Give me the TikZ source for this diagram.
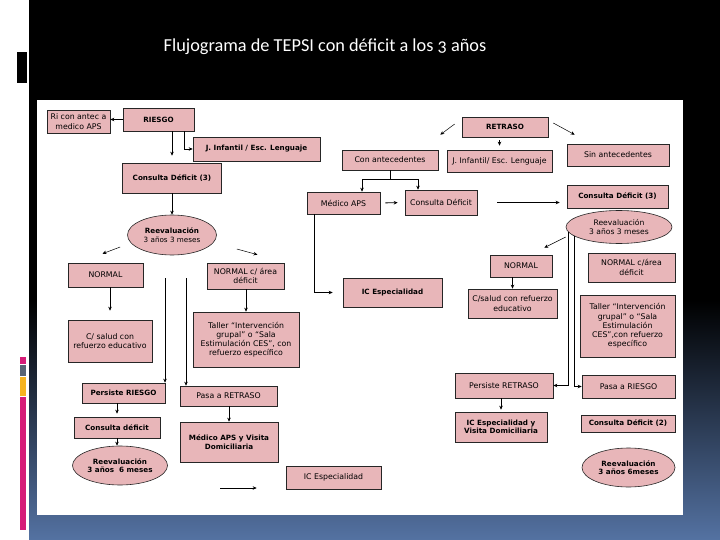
\documentclass[tikz,border=0pt]{standalone}
\usepackage{fontspec}
\setmainfont{DejaVu Sans}
\newfontfamily\titlefont[Numbers=OldStyle]{Carlito}
\usetikzlibrary{shapes.geometric, arrows.meta, positioning, calc}
\definecolor{rosa}{RGB}{232,182,185}
\definecolor{fondoazul}{RGB}{84,114,162}
\definecolor{barmagenta}{RGB}{214,28,120}
\definecolor{bargris}{RGB}{88,100,116}
\definecolor{baramarillo}{RGB}{246,180,32}

\begin{document}
\begin{tikzpicture}[
  x=1pt, y=-1pt,
  >={Stealth[length=4pt, width=3.5pt]},
  % box styles
  caja/.style={
    rectangle, draw=black!85, line width=0.6pt, fill=rosa,
    align=center, inner sep=1pt, font=\fontsize{7.8}{9.2}\selectfont
  },
  cajab/.style={caja, font=\fontsize{7.2}{8.6}\selectfont\bfseries},
  elipse/.style={
    ellipse, draw=black!85, line width=0.6pt, fill=rosa,
    align=center, inner sep=0pt, font=\fontsize{7.2}{8.4}\selectfont\bfseries
  },
  tam/.style 2 args={minimum width=#1pt, minimum height=#2pt},
  flecha/.style={->, line width=0.8pt, black},
  fina/.style={->, line width=0.5pt, black}
]
\useasboundingbox (0,0) rectangle (720,540);

% Slide frame
\fill[white] (0,0) rectangle (720,540);
\fill[black] (29,0) rectangle (720,300);
\shade[top color=black, bottom color=fondoazul] (29,300) rectangle (720,540);
\fill[black] (17,52) rectangle (27,83);
\fill[barmagenta] (20,357) rectangle (26,364);
\fill[bargris] (20,365) rectangle (26,376);
\fill[baramarillo] (20,377) rectangle (26,396);
\fill[barmagenta] (20,397) rectangle (26,530);
\fill[white] (37,100) rectangle (683,515);

% Title
\node[text=white, font=\titlefont\fontsize{18.3}{20}\selectfont] (titulo) at (325,47)
  {Flujograma de TEPSI con déficit a los 3 años};

% RIESGO branch
\node[caja, tam={63}{23}] (riante) at (78.5,121.5) {Ri con antec a\\medico APS};
\node[cajab, tam={71}{23}] (riesgo) at (158.5,119.5) {RIESGO};
\node[cajab, tam={127}{24}] (jinf) at (256.5,149) {J. Infantil / Esc. Lenguaje};
\node[cajab, tam={99}{30}] (consdef) at (172,178) {Consulta Déficit (3)};
\node[elipse, tam={89}{40}] (reev1) at (172,235) {Reevaluación\\\mdseries 3 años 3 meses};
\node[caja, tam={75}{24}] (normal1) at (105.5,275) {NORMAL};
\node[caja, tam={77}{26}] (normalc1) at (245.5,276) {NORMAL c/ área\\déficit};
\node[caja, tam={84}{42}] (csalud1) at (110,341) {C/ salud con\\refuerzo educativo};
\node[caja, tam={106}{55}] (taller1) at (246,339.5)
  {Taller “Intervención\\grupal” o “Sala\\Estimulación CES”, con\\refuerzo específico};
\node[cajab, tam={83}{20}] (persr) at (123.5,393) {Persiste RIESGO};
\node[caja, tam={97}{20}] (pasaret) at (228.5,396) {Pasa a RETRASO};
\node[cajab, tam={86}{21}] (consdef2) at (117,427.5) {Consulta déficit};
\node[elipse, tam={95}{39}] (reev2) at (120,465.5) {Reevaluación\\3 años~ 6 meses};
\node[cajab, tam={98}{40}] (medvis) at (229,442) {Médico APS y Visita\\Domiciliaria};
\node[caja, tam={95}{23}] (icesp2) at (333.5,477.5) {IC Especialidad};

% RETRASO branch
\node[caja, tam={96}{20}] (conant) at (390,160) {Con antecedentes};
\node[caja, tam={73}{22}] (medaps) at (343.5,203) {Médico APS};
\node[caja, tam={72}{25}] (consdef3) at (441,202.5) {Consulta Déficit};
\node[cajab, tam={99}{29}] (icesp) at (392.5,292.5) {IC Especialidad};
\node[cajab, tam={86}{20}] (retraso) at (505,127) {RETRASO};
\node[caja, tam={105}{22}] (jinf2) at (499.5,161) {J. Infantil/ Esc. Lenguaje};
\node[caja, tam={102}{22}] (sinant) at (618,155) {Sin antecedentes};
\node[cajab, tam={101}{23}] (consdef4) at (617.5,196.5) {Consulta Déficit (3)};
\node[elipse, tam={106}{33}, font=\fontsize{7.6}{8.6}\selectfont] (reev3) at (619,227)
  {Reevaluación\\3 años 3 meses};
\node[caja, tam={62}{22}] (normal2) at (521,266) {NORMAL};
\node[caja, tam={87}{29}] (normalc2) at (631.5,267.5) {NORMAL c/área\\déficit};
\node[caja, tam={89}{29}] (csalud2) at (512.5,303.5) {C/salud con refuerzo\\educativo};
\node[caja, tam={95}{62}] (taller2) at (627.5,326)
  {Taller “Intervención\\grupal” o “Sala\\Estimulación\\CES”,con refuerzo\\específico};
\node[caja, tam={98}{25}] (perret) at (504,385.5) {Persiste RETRASO};
\node[caja, tam={93}{23}] (pasaries) at (628.5,386.5) {Pasa a RIESGO};
\node[cajab, tam={92}{30}] (icvis) at (501,427) {IC Especialidad y\\Visita Domiciliaria};
\node[cajab, tam={94}{17}] (consdef5) at (628,423.5) {Consulta Déficit (2)};
\node[elipse, tam={93}{39}] (reev4) at (628.5,467.5) {Reevaluación\\3 años 6meses};

% Free ends
\coordinate (s1) at ($(reev1.west)+(-7,12)$);
\coordinate (e1) at ($(normal1.north)+(-3,-9)$);
\coordinate (s2) at ($(reev1.east)+(20,14)$);
\coordinate (e2) at ($(normalc1.north)+(12,-8)$);
\coordinate (v1) at (165,278);
\coordinate (v2) at (186,278);
\coordinate (h1) at (220,488);
\coordinate (cc) at ($(conant.south)+(0,9)$);
\coordinate (s3) at ($(retraso.west)+(-7,-3)$);
\coordinate (e3) at ($(conant.north east)+(2,-15)$);
\coordinate (s4) at ($(retraso.east)+(5,-4)$);
\coordinate (e4) at ($(sinant.north west)+(8,-9)$);
\coordinate (s5) at ($(reev3.west)+(0,10)$);
\coordinate (e5) at ($(normal2.north east)+(-8,-7)$);

% Connectors, RIESGO side
\draw[flecha] (riesgo.west) -- (riesgo.west -| riante.east);
\draw[flecha, shorten >=7pt] (riesgo.south -| consdef.north) -- (consdef.north);
\draw[flecha] ([xshift=25.5pt]riesgo.south) |- (jinf.west);
\draw[flecha] (consdef.south) -- (reev1.north);
\draw[fina] (s1) -- (e1);
\draw[fina] (s2) -- (e2);
\draw[flecha, shorten >=9pt] (normal1.south -| csalud1.north) -- (csalud1.north);
\draw[flecha] (normalc1.south -| taller1.north) -- (taller1.north);
\draw[flecha] (v1) -- (v1 |- persr.north);
\draw[flecha] (v2) -- (v2 |- pasaret.north);
\draw[flecha, shorten >=3pt] (persr.south -| consdef2.north) -- (consdef2.north);
\draw[flecha] (consdef2.south) -- (consdef2.south |- reev2.north);
\draw[flecha] (pasaret.south -| medvis.north) -- (medvis.north);
\draw[flecha, shorten >=29pt] (h1) -- (h1 -| icesp2.west);

% Connectors, RETRASO side
\draw[line width=0.8pt] (conant.south) -- (cc);
\draw[flecha] (cc) -| ([xshift=18.5pt]medaps.north);
\draw[flecha] (cc) -| ([xshift=-23pt]consdef3.north);
\draw[flecha, shorten <=5pt, shorten >=7pt] (medaps.east) -- (consdef3.west);
\draw[flecha, shorten <=20pt, shorten >=7pt] (consdef3.east) -- (consdef3.east -| consdef4.west);
\draw[flecha, shorten >=10pt] ([xshift=-29.5pt]medaps.south) |- (icesp.west);
\draw[fina] (s3) -- (e3);
\draw[fina] (s4) -- (e4);
\draw[flecha, shorten <=3pt, shorten >=4pt] (retraso.south -| jinf2.north) -- (jinf2.north);
\draw[fina] (s5) -- (e5);
\draw[flecha] (normal2.south -| csalud2.north) -- (csalud2.north);
\draw[flecha] (reev3.186) |- (perret.east);
\draw[flecha] (reev3.192) |- (pasaries.west);
\draw[flecha, shorten >=2pt] (perret.south -| icvis.north) -- (icvis.north);

\end{tikzpicture}
\end{document}
